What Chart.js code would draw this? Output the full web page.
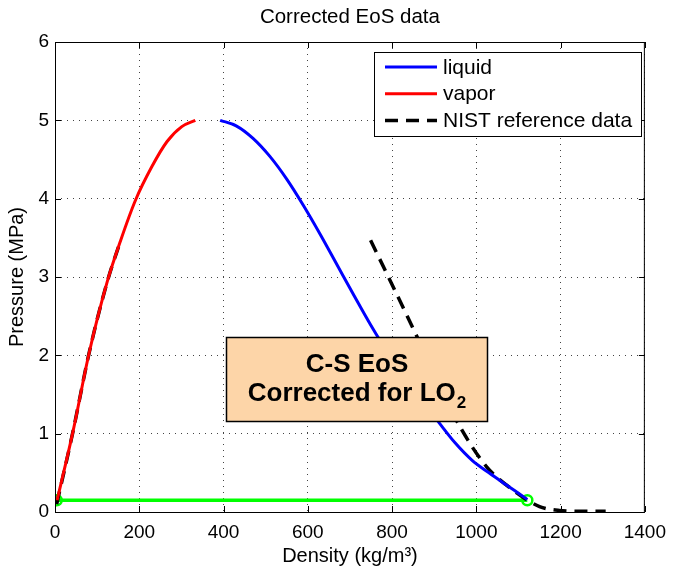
<!DOCTYPE html>
<html>
<head>
<meta charset="utf-8">
<script src="https://cdn.jsdelivr.net/npm/chart.js@4/dist/chart.umd.min.js"></script>
<style>
  html, body { margin: 0; padding: 0; background: #fff; }
  #wrap { width: 675px; height: 571px; }
</style>
</head>
<body>
<div id="wrap"><canvas id="eos" width="675" height="571"></canvas></div>
<script>
// Saturation dome of oxygen: corrected C-S equation of state vs NIST data
const xAxisTicks = [0, 200, 400, 600, 800, 1000, 1200, 1400];
const yAxisTicks = [0, 1, 2, 3, 4, 5, 6];

const vaporDensity  = [5, 42, 81, 124, 156, 191, 230, 266, 301, 333];
const vaporPressure = [0.15, 1.01, 2.03, 2.94, 3.47, 3.98, 4.41, 4.73, 4.92, 5.0];

const liquidDensity  = [392, 430, 470, 510, 550, 590, 630, 670, 710, 750, 790, 830, 870, 910, 950, 990, 1030, 1070, 1100, 1121];
const liquidPressure = [5.0, 4.93, 4.77, 4.54, 4.25, 3.91, 3.54, 3.15, 2.76, 2.38, 2.03, 1.72, 1.43, 1.15, 0.88, 0.66, 0.50, 0.35, 0.24, 0.16];

const nistVaporDensity  = [4, 42, 81, 124, 156];
const nistVaporPressure = [0.1, 1.01, 2.03, 2.94, 3.47];
const nistLiquidDensity  = [749, 859, 910, 961, 1024, 1087, 1150, 1197, 1250, 1307];
const nistLiquidPressure = [3.47, 2.24, 1.64, 1.09, 0.58, 0.28, 0.07, 0.02, 0.01, 0.01];

const satDensity  = [4, 1121];
const satPressure = [0.15, 0.15];

const FONT = '"Liberation Sans", Arial, Helvetica, sans-serif';

const pts = (xs, ys) => xs.map((x, i) => ({ x, y: ys[i] }));
// NIST branches joined by a break point so they share one legend entry
const nistPoints = pts(nistVaporDensity, nistVaporPressure)
  .concat([{ x: 450, y: null }])
  .concat(pts(nistLiquidDensity, nistLiquidPressure));

// Box frame with inward tick marks on all four sides
const axesFrame = {
  id: 'axesFrame',
  afterDatasetsDraw(chart) {
    const { ctx, chartArea: a, scales: { x, y } } = chart;
    ctx.save();
    ctx.strokeStyle = '#000';
    ctx.lineWidth = 1;
    ctx.strokeRect(a.left + 0.5, a.top + 0.5, a.right - a.left - 1, a.bottom - a.top);
    const t = 6;
    ctx.beginPath();
    xAxisTicks.forEach(v => {
      const px = Math.round(x.getPixelForValue(v)) + 0.5;
      ctx.moveTo(px, a.bottom); ctx.lineTo(px, a.bottom - t);
      ctx.moveTo(px, a.top); ctx.lineTo(px, a.top + t);
    });
    yAxisTicks.forEach(v => {
      const py = Math.round(y.getPixelForValue(v)) + 0.5;
      ctx.moveTo(a.left, py); ctx.lineTo(a.left + t, py);
      ctx.moveTo(a.right, py); ctx.lineTo(a.right - t, py);
    });
    ctx.stroke();
    ctx.restore();
  }
};

// Boxed legend in the upper right and the text label box
const overlays = {
  id: 'overlays',
  afterDraw(chart) {
    const { ctx } = chart;
    ctx.save();

    // legend
    const lx = 374.5, ly = 52.5, lw = 267, lh = 84;
    ctx.fillStyle = '#fff';
    ctx.fillRect(lx, ly, lw, lh);
    ctx.strokeStyle = '#000';
    ctx.lineWidth = 1;
    ctx.strokeRect(lx, ly, lw, lh);
    const items = chart.data.datasets.slice(0, 3);
    items.forEach((ds, i) => {
      const ry = 67 + i * 26.7;
      ctx.save();
      ctx.strokeStyle = ds.borderColor;
      ctx.lineWidth = ds.borderWidth;
      ctx.setLineDash(ds.borderDash || []);
      ctx.beginPath();
      ctx.moveTo(385, ry);
      ctx.lineTo(437, ry);
      ctx.stroke();
      ctx.restore();
      ctx.fillStyle = '#000';
      ctx.font = '21px ' + FONT;
      ctx.textAlign = 'left';
      ctx.textBaseline = 'middle';
      ctx.fillText(ds.label, 443, ry + 1);
    });

    // label box
    const bx = 226.5, by = 337.5, bw = 261, bh = 84;
    ctx.fillStyle = '#FDD5A8';
    ctx.fillRect(bx, by, bw, bh);
    ctx.lineWidth = 1.5;
    ctx.strokeStyle = '#000';
    ctx.strokeRect(bx, by, bw, bh);
    const cx = bx + bw / 2;
    ctx.fillStyle = '#000';
    ctx.textBaseline = 'middle';
    ctx.textAlign = 'center';
    ctx.font = 'bold 26px ' + FONT;
    ctx.fillText('C-S EoS', cx, 365);
    const main = 'Corrected for LO';
    const sub = '2';
    const wMain = ctx.measureText(main).width;
    ctx.font = 'bold 17px ' + FONT;
    const wSub = ctx.measureText(sub).width;
    const start = cx - (wMain + wSub + 1) / 2;
    ctx.textAlign = 'left';
    ctx.font = 'bold 26px ' + FONT;
    ctx.fillText(main, start, 394);
    ctx.font = 'bold 17px ' + FONT;
    ctx.fillText(sub, start + wMain + 1, 403);

    ctx.restore();
  }
};

const gridStyle = { color: '#444', lineWidth: 1, drawTicks: false, borderDash: [1, 5] };
const plainLabel = v => String(v);

new Chart(document.getElementById('eos'), {
  type: 'scatter',
  data: {
    datasets: [
      {
        label: 'liquid',
        data: pts(liquidDensity, liquidPressure),
        showLine: true, borderColor: '#0000FF', borderWidth: 3,
        pointRadius: 0, cubicInterpolationMode: 'monotone'
      },
      {
        label: 'vapor',
        data: pts(vaporDensity, vaporPressure),
        showLine: true, borderColor: '#FF0000', borderWidth: 3,
        pointRadius: 0, cubicInterpolationMode: 'monotone'
      },
      {
        label: 'NIST reference data',
        data: nistPoints,
        showLine: true, borderColor: '#000000', borderWidth: 3.5,
        borderDash: [13, 8], spanGaps: false,
        pointRadius: 0, cubicInterpolationMode: 'monotone'
      },
      {
        label: 'saturation',
        data: pts(satDensity, satPressure),
        showLine: true, borderColor: '#00FF00', borderWidth: 3.5,
        pointRadius: 5, pointBorderWidth: 2.5, pointBorderColor: '#00FF00',
        pointBackgroundColor: 'rgba(255,255,255,0)'
      }
    ]
  },
  options: {
    responsive: false,
    devicePixelRatio: 1,
    animation: false,
    layout: { autoPadding: false, padding: { left: 0, right: 25, top: 0, bottom: 0 } },
    plugins: {
      legend: { display: false },
      tooltip: { enabled: false },
      title: {
        display: true,
        text: 'Corrected EoS data',
        color: '#000',
        fullSize: false,
        font: { family: FONT, size: 20.5, weight: 'normal' },
        padding: { top: 5, bottom: 12.4 }
      }
    },
    scales: {
      x: {
        type: 'linear', min: 0, max: 1400,
        afterFit(s) { s.height = 59; },
        ticks: { stepSize: 200, color: '#000', padding: 9, callback: plainLabel, font: { family: FONT, size: 19 } },
        grid: gridStyle,
        border: { display: false, dash: [1, 5] },
        title: {
          display: true, text: 'Density (kg/m³)', color: '#000',
          font: { family: FONT, size: 20 }, padding: { top: 0, bottom: 3 }
        }
      },
      y: {
        type: 'linear', min: 0, max: 6,
        afterFit(s) { s.width = 55; },
        ticks: { stepSize: 1, color: '#000', padding: 6, callback: plainLabel, font: { family: FONT, size: 19 } },
        grid: gridStyle,
        border: { display: false, dash: [1, 5] },
        title: {
          display: true, text: 'Pressure (MPa)', color: '#000',
          font: { family: FONT, size: 20 }, padding: { top: 5, bottom: 0 }
        }
      }
    }
  },
  plugins: [axesFrame, overlays]
});
</script>
</body>
</html>
